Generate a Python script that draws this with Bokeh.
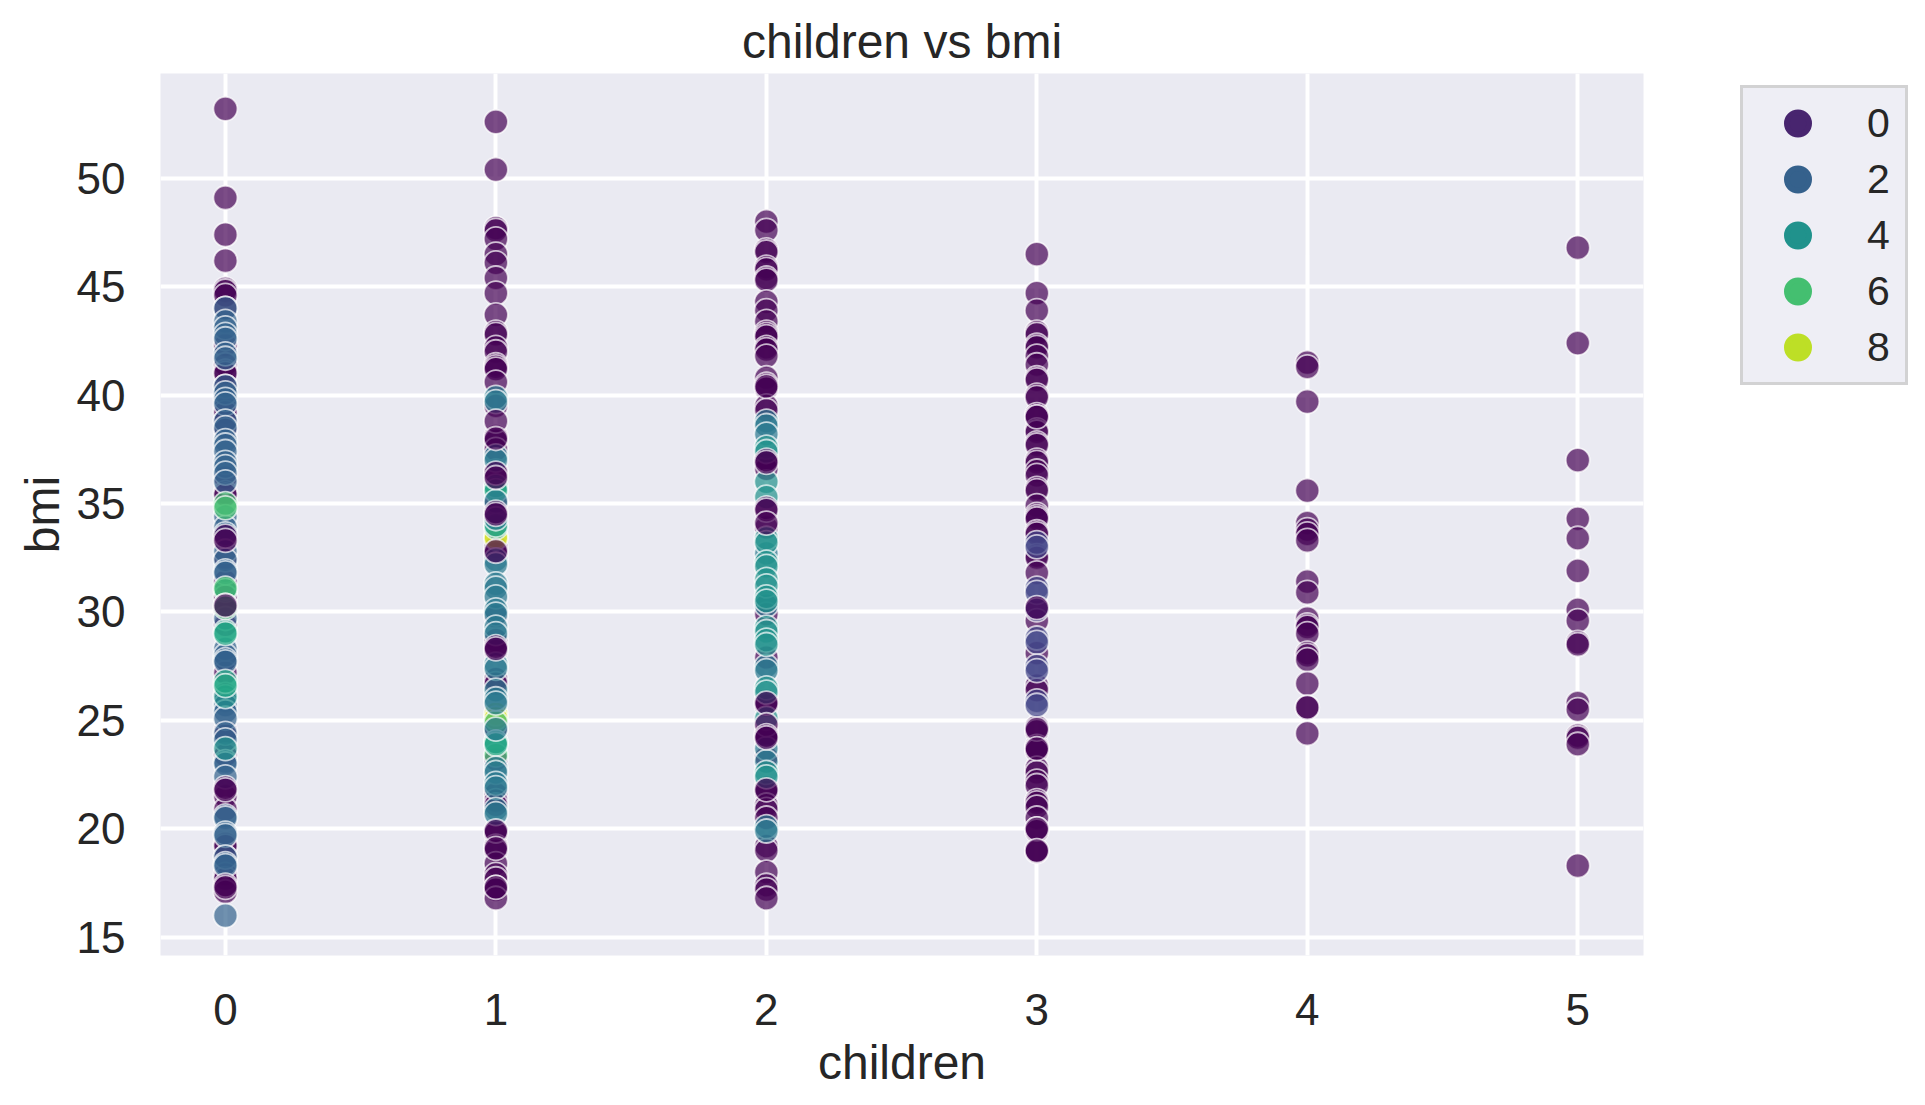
from bokeh.plotting import figure
from bokeh.layouts import row
from bokeh.models import FixedTicker, Legend, LegendItem, Title
from bokeh.embed import file_html
from bokeh.resources import INLINE
from bokeh.core.properties import value

# ---- category ticks ----
x_ticks = [0, 1, 2, 3, 4, 5]
y_ticks = [15, 20, 25, 30, 35, 40, 45, 50]
legend_labels = ["0", "2", "4", "6", "8"]
legend_colors = ["#48256f", "#35618c", "#20928c", "#44bf70", "#bddf26"]

PURPLE, INDIGO, BLUE, TEALBLUE = "#440154", "#414487", "#33638d", "#2a788e"
TEAL, SEA, GREEN, YELLOW = "#21918c", "#22a884", "#44bf70", "#d4e026"

# ---- children = 0 ----
c0_purple_under = [53.2, 49.1, 47.4, 46.2, 44.9, 44.8, 44.6, 44.0, 42.3, 41.4, 41.1, 41.0, 40.4, 39.4, 39.2,
                   38.8, 38.4, 36.2, 35.5, 35.4, 32.5, 31.4, 30.7, 30.1, 29.4, 27.9, 27.7, 27.2, 26.2, 24.5,
                   24.3, 23.4, 21.5, 20.9, 19.3, 19.2, 18.7, 17.9, 17.7, 17.1]
c0_blue = [44.0, 43.4, 43.1, 42.8, 42.6, 41.9, 41.7, 40.4, 40.1, 39.8, 39.6, 38.8, 38.5, 37.9, 37.7, 37.4,
           36.9, 36.7, 36.4, 36.0, 34.4, 33.9, 33.6, 32.8, 32.4, 31.9, 31.8, 29.7, 28.3, 28.0, 27.8, 27.7,
           25.9, 25.7, 25.4, 25.1, 24.4, 24.1, 23.1, 23.0, 22.4, 20.6, 20.5, 19.8, 19.7, 18.7, 18.4, 18.3, 16.0]
c0_teal = [26.1, 23.7]
c0_sea = [29.1, 29.0, 26.8, 26.6, 31.0]
c0_green = [35.0, 34.8, 31.1, 30.3, 30.2]
c0_purple_over = [33.5, 33.3, 30.3, 21.9, 21.8, 17.4, 17.3]

# ---- children = 1 ----
c1_purple_under = [52.6, 50.4, 47.7, 47.6, 47.2, 46.5, 46.1, 45.4, 44.7, 43.7, 42.9, 42.8, 42.2, 42.0, 41.4,
                   41.3, 41.2, 40.6, 39.5, 38.1, 37.9, 37.5, 36.5, 35.0, 33.0, 32.7, 29.8, 28.7, 28.2, 26.9,
                   26.7, 24.6, 23.2, 21.6, 21.3, 21.1, 19.9, 19.8, 19.2, 19.0, 18.4, 17.9, 17.7, 17.3, 17.2, 16.8]
c1_tealblue = [39.9, 39.7, 37.2, 37.0, 35.1, 34.3, 32.4, 32.2, 31.3, 31.1, 30.7, 30.1, 29.9, 29.3, 29.0, 27.6,
               27.4, 26.4, 26.0, 25.8, 24.6, 22.8, 22.6, 22.1, 21.9, 20.9, 20.7]
c1_teal = [35.8, 33.9, 24.0]
c1_yellow = [33.5, 33.4, 25.3, 25.1]
c1_green = [35.7, 24.9, 24.0, 23.4]
c1_sea = [35.6, 34.0, 23.9]
c1_purple_over = [38.8, 38.0, 36.4, 36.2, 34.6, 34.5, 32.8, 28.4, 28.3, 19.9, 19.1, 17.3]

# ---- children = 2 ----
c2_purple_under = [48.0, 47.6, 46.7, 46.6, 45.9, 45.8, 45.4, 45.3, 44.3, 43.9, 43.4, 42.9, 42.8, 42.7, 42.2, 42.1,
                   41.8, 40.8, 40.5, 40.3, 39.5, 39.3, 37.1, 36.8, 36.6, 33.9, 30.4, 29.9, 27.9, 25.9, 25.7,
                   24.4, 24.3, 24.2, 23.3, 21.9, 21.7, 21.1, 20.9, 20.5, 19.2, 19.0, 18.0, 17.4, 17.2, 16.8]
c2_tealblue = [38.8, 38.6, 38.2, 32.7, 30.3, 27.5, 27.3, 23.7, 23.1, 20.1, 19.9]
c2_teal = [37.6, 37.4, 36.0, 35.3, 33.4, 33.2, 32.3, 32.1, 31.5, 31.2, 30.7, 30.5, 29.3, 29.1, 28.7, 28.5,
           26.5, 26.3, 25.1, 22.6, 22.4]
c2_purple_over = [40.4, 37.0, 36.9, 34.8, 34.7, 34.1, 25.8, 24.8, 24.3, 24.2, 21.8]

# ---- children = 3 ----
c3_purple_under = [46.5, 44.7, 43.9, 42.9, 42.8, 42.3, 42.2, 41.8, 41.4, 40.8, 40.7, 40.0, 39.9, 39.1, 39.0, 38.4, 38.3,
                   37.8, 37.7, 37.0, 36.9, 36.5, 36.3, 35.7, 35.6, 34.9, 34.5, 34.4, 34.3, 33.7, 33.6, 32.6, 32.5,
                   31.8, 30.2, 29.6, 28.1, 26.6, 26.4, 24.7, 24.5, 23.8, 23.7, 23.6, 22.8, 22.6, 22.2, 22.0,
                   21.3, 21.2, 21.0, 20.5, 20.0, 19.9, 19.0, 18.95]
c3_indigo = [33.2, 33.0, 31.1, 30.9, 30.1, 28.8, 28.6, 27.5, 27.3, 25.9, 25.7]
c3_purple_over = [39.0, 30.2, 24.6, 23.7, 20.0, 19.0]

# ---- children = 4 and 5 ----
c4_purple = [41.5, 41.3, 39.7, 35.6, 34.1, 33.8, 33.6, 33.3, 31.4, 30.9, 29.7, 29.4, 29.3, 29.0, 28.1, 28.0,
             27.8, 26.7, 25.6, 25.6, 24.4]
c5_purple = [46.8, 42.4, 37.0, 34.3, 33.4, 31.9, 30.1, 29.6, 28.6, 28.5, 25.8, 25.5, 24.3, 24.2, 23.9, 18.3]

layers = [
    (0, PURPLE, c0_purple_under), (0, BLUE, c0_blue), (0, TEAL, c0_teal), (0, SEA, c0_sea), (0, GREEN, c0_green),
    (0, PURPLE, c0_purple_over),
    (1, PURPLE, c1_purple_under), (1, YELLOW, c1_yellow), (1, GREEN, c1_green), (1, TEAL, c1_teal), (1, SEA, c1_sea),
    (1, TEALBLUE, c1_tealblue), (1, PURPLE, c1_purple_over),
    (2, PURPLE, c2_purple_under), (2, TEALBLUE, c2_tealblue), (2, TEAL, c2_teal), (2, PURPLE, c2_purple_over),
    (3, PURPLE, c3_purple_under), (3, INDIGO, c3_indigo), (3, PURPLE, c3_purple_over),
    (4, PURPLE, c4_purple), (5, PURPLE, c5_purple),
]

FONT = "Liberation Sans"
INK = "#262626"

p = figure(width=1710, height=1097, output_backend="svg", toolbar_location=None,
           x_range=(-0.24, 5.243), y_range=(14.16, 54.83),
           min_border_left=160, min_border_right=67, min_border_top=73, min_border_bottom=142,
           background_fill_color="#eaeaf2", border_fill_color="white", outline_line_color=None)

p.title = Title(text="children vs bmi", align="center", text_font=FONT, text_font_size="48px",
                text_color=INK, text_font_style="normal", standoff=12)

for ax, label, ticks in ((p.xaxis[0], "children", x_ticks), (p.yaxis[0], "bmi", y_ticks)):
    ax.ticker = FixedTicker(ticks=ticks)
    ax.axis_label = label
    ax.axis_label_text_font = FONT
    ax.axis_label_text_font_size = "48px"
    ax.axis_label_text_font_style = "normal"
    ax.axis_label_text_color = INK
    ax.major_label_text_font = FONT
    ax.major_label_text_font_size = "44px"
    ax.major_label_text_color = INK
    ax.axis_line_color = None
    ax.major_tick_line_color = None
    ax.minor_tick_line_color = None
    ax.major_tick_out = 0
p.xaxis[0].major_label_standoff = 38
p.xaxis[0].axis_label_standoff = 8
p.yaxis[0].major_label_standoff = 35
p.yaxis[0].axis_label_standoff = 5
p.yaxis[0].major_label_orientation = "horizontal"

for g, ticks in ((p.xgrid[0], x_ticks), (p.ygrid[0], y_ticks)):
    g.ticker = FixedTicker(ticks=ticks)
    g.grid_line_color = "white"
    g.grid_line_width = 4

for x, color, vals in layers:
    p.scatter([x] * len(vals), vals, size=24, fill_color=color, fill_alpha=0.7,
              line_color="white", line_alpha=0.7, line_width=1.8)

# The legend sits in its own narrow figure to the right of the axes.
side = figure(width=207, height=1097, output_backend="svg", toolbar_location=None,
              x_range=(0, 1), y_range=(0, 1), x_axis_location=None, y_axis_location=None,
              min_border_left=20, min_border_right=0, min_border_top=73, min_border_bottom=142,
              background_fill_color="white", border_fill_color="white", outline_line_color=None)
side.grid.visible = False

items = []
for label, color in zip(legend_labels, legend_colors):
    r = side.scatter([-10], [0], size=28, fill_color=color, line_color=color, line_width=5.6)
    items.append(LegendItem(label=value(label), renderers=[r]))

legend = Legend(items=items, location=(10, 570), orientation="vertical",
                glyph_width=95, glyph_height=56, spacing=0, padding=7, margin=0,
                label_width=31, label_text_font=FONT, label_text_font_size="41px", label_text_color=INK,
                label_standoff=22, background_fill_color="#eaeaf2", background_fill_alpha=0.8,
                border_line_color="#cccccc", border_line_width=3.5, border_line_alpha=0.85)
side.add_layout(legend, "center")

page = row(p, side, spacing=0)
open("out.html", "w").write(file_html(page, INLINE))
